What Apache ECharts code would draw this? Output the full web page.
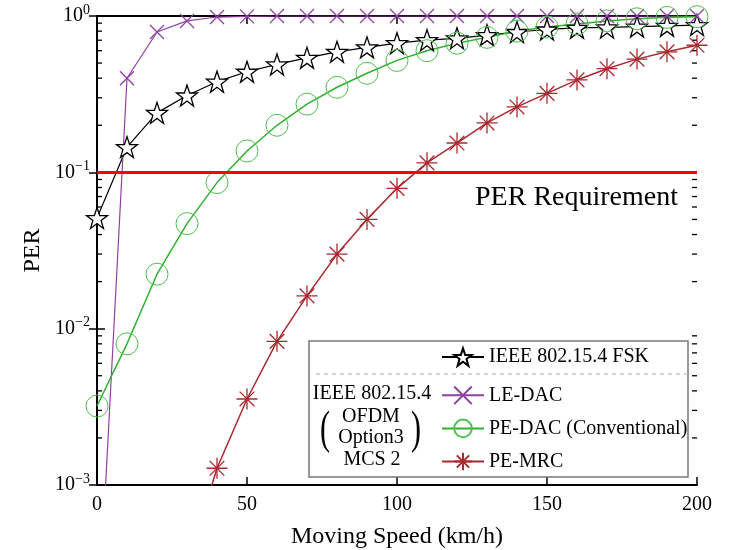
<!DOCTYPE html>
<html>
<head>
<meta charset="utf-8">
<script src="https://cdn.jsdelivr.net/npm/echarts@6/dist/echarts.min.js"></script>
<style>
  html, body { margin: 0; padding: 0; background: #fff; }
  #chart { width: 733px; height: 550px; }
</style>
</head>
<body>
<div id="chart"></div>
<script>
// moving speed (km/h)
var speed = [0, 10, 20, 30, 40, 50, 60, 70, 80, 90, 100, 110, 120, 130, 140, 150, 160, 170, 180, 190, 200];
// packet error rate per scheme
var fsk = [0.051, 0.145, 0.24, 0.31, 0.38, 0.44, 0.49, 0.54, 0.59, 0.63, 0.67, 0.70, 0.72, 0.755, 0.79, 0.82, 0.84, 0.845, 0.855, 0.865, 0.875];
var leDac = [0.00009, 0.40, 0.79, 0.93, 0.985, 0.995, 1, 1, 1, 1, 1, 1, 1, 1, 1, 1, 1, 1, 1, 1, 1];
var peDac = [0.0032, 0.0080, 0.0223, 0.047, 0.086, 0.137, 0.20, 0.273, 0.35, 0.43, 0.52, 0.60, 0.67, 0.73, 0.80, 0.85, 0.89, 0.93, 0.96, 0.98, 0.99];
var peMrc = [null, null, null, 0.0003, 0.00128, 0.00355, 0.0083, 0.0162, 0.030, 0.050, 0.079, 0.115, 0.154, 0.207, 0.262, 0.32, 0.39, 0.46, 0.53, 0.59, 0.65];
var perReq = 0.1;
var seriesNames = ['IEEE 802.15.4 FSK', 'LE-DAC', 'PE-DAC (Conventional)', 'PE-MRC'];
// log minor tick values (2..9 x 10^n)
var minorTicks = [0.002, 0.003, 0.004, 0.005, 0.006, 0.007, 0.008, 0.009,
                  0.02, 0.03, 0.04, 0.05, 0.06, 0.07, 0.08, 0.09,
                  0.2, 0.3, 0.4, 0.5, 0.6, 0.7, 0.8, 0.9];

var FONT = 'Liberation Serif';
var STAR = 'path://M50,0L61.8,34.5L97.6,34.5L68.8,55.9L79.4,90.5L50,69.1L20.6,90.5L31.2,55.9L2.4,34.5L38.2,34.5Z';
var CROSS = 'path://M0,0L10,10M10,0L0,10';
var ASTER = 'path://M5,0L5,10M0,5L10,5M1.5,1.5L8.5,8.5M8.5,1.5L1.5,8.5';

function pairs(ys) {
    return speed.map(function (x, i) { return [x, ys[i]]; });
}

function supLabel(v) {
    var e = Math.round(Math.log10(v));
    return '{b|10}{s|' + (e < 0 ? '\u2212' + (-e) : e) + '}';
}

function txt(x, y, s, size) {
    return {
        type: 'text', z: 6, x: x, y: y,
        style: { text: s, font: size + 'px "Liberation Serif"', fill: '#000', align: 'center', verticalAlign: 'middle' }
    };
}

var chart = echarts.init(document.getElementById('chart'));

var yCommon = {
    type: 'log', logBase: 10, min: 0.001, max: 1,
    splitLine: { show: false },
    axisLine: { show: true, lineStyle: { color: '#000', width: 2 } },
    axisTick: { show: true, inside: true, length: 8, lineStyle: { color: '#000', width: 1.5 } }
};
var xCommon = {
    type: 'value', min: 0, max: 200, interval: 50,
    splitLine: { show: false },
    axisLine: { show: true, lineStyle: { color: '#000', width: 2 } },
    axisTick: { show: true, inside: true, length: 8, lineStyle: { color: '#000', width: 1.5 } }
};
var legendText = { fontSize: 20, color: '#000', fontFamily: FONT };

var lparen = txt(325, 431, '(', 30);
lparen.scaleY = 1.55;
var rparen = txt(416, 431, ')', 30);
rparen.scaleY = 1.55;

var option = {
    animation: false,
    backgroundColor: '#fff',
    textStyle: { fontFamily: FONT },
    grid: { left: 97, right: 36, top: 16, bottom: 65, containLabel: false, outerBoundsMode: 'none' },
    xAxis: [
        Object.assign({}, xCommon, {
            position: 'bottom',
            name: 'Moving Speed (km/h)', nameLocation: 'middle', nameGap: 40,
            nameTextStyle: { fontSize: 24, color: '#000', fontFamily: FONT },
            axisLabel: { fontSize: 20, color: '#000', fontFamily: FONT, margin: 10 }
        }),
        Object.assign({}, xCommon, { position: 'top', axisLabel: { show: false } })
    ],
    yAxis: [
        Object.assign({}, yCommon, {
            position: 'left',
            name: 'PER', nameLocation: 'middle', nameGap: 50,
            nameTextStyle: { fontSize: 24, color: '#000', fontFamily: FONT },
            axisLabel: {
                margin: 7, formatter: supLabel,
                rich: {
                    b: { fontSize: 20, color: '#000', fontFamily: FONT },
                    s: { fontSize: 14, color: '#000', fontFamily: FONT, verticalAlign: 'top', padding: [0, 0, 12, 0] }
                }
            }
        }),
        Object.assign({}, yCommon, { position: 'right', axisLabel: { show: false } })
    ],
    legend: [{
        data: [seriesNames[0]],
        left: 441, top: 347, orient: 'vertical', padding: 0,
        itemWidth: 42, itemHeight: 22, z: 10,
        textStyle: legendText
    }, {
        data: seriesNames.slice(1),
        left: 441, top: 384, orient: 'vertical', itemGap: 10.5, padding: 0,
        itemWidth: 42, itemHeight: 22, z: 10,
        textStyle: legendText
    }],
    graphic: [
        { type: 'rect', z: 5, shape: { x: 309, y: 341, width: 379, height: 136 },
          style: { fill: '#fff', stroke: '#777', lineWidth: 1.5 } },
        { type: 'line', z: 6, shape: { x1: 316, y1: 374, x2: 688, y2: 374 },
          style: { stroke: '#aaa', lineWidth: 1, lineDash: [4, 4] } },
        txt(372, 394, 'IEEE 802.15.4', 20),
        txt(371, 417, 'OFDM', 20),
        txt(371, 438, 'Option3', 20),
        txt(372, 460, 'MCS 2', 20),
        lparen,
        rparen,
        { type: 'text', z: 6, right: 55, top: 184, style: { text: 'PER Requirement', font: '28px "Liberation Serif"', fill: '#000' } }
    ],
    series: [{
        name: seriesNames[0], type: 'line', data: pairs(fsk),
        symbol: STAR, symbolSize: 21,
        lineStyle: { color: '#000', width: 1.2 },
        itemStyle: { color: '#fff', borderColor: '#000', borderWidth: 1.3 }
    }, {
        name: seriesNames[1], type: 'line', data: pairs(leDac),
        symbol: CROSS, symbolSize: 14,
        lineStyle: { color: '#9040a0', width: 1.2 },
        itemStyle: { color: 'none', borderColor: '#9040a0', borderWidth: 1.3 }
    }, {
        name: seriesNames[2], type: 'line', data: pairs(peDac),
        symbol: 'circle', symbolSize: 22,
        lineStyle: { color: '#30b030', width: 1.5 },
        itemStyle: { color: 'none', borderColor: '#50c050', borderWidth: 1 }
    }, {
        name: seriesNames[3], type: 'line', data: pairs(peMrc),
        symbol: ASTER, symbolSize: 21,
        lineStyle: { color: '#a82a30', width: 1.5 },
        itemStyle: { color: 'none', borderColor: '#a82a30', borderWidth: 1.3 },
        markLine: {
            silent: true, symbol: 'none', label: { show: false },
            lineStyle: { color: '#ff0000', width: 3, type: 'solid' },
            data: [{ yAxis: perReq }]
        }
    }, {
        // log minor ticks on left and right frame
        type: 'custom', silent: true, z: 1,
        data: minorTicks.map(function (v) { return [0, v]; }),
        renderItem: function (params, api) {
            var v = api.value(1);
            var l = api.coord([0, v]);
            var r = api.coord([200, v]);
            var st = { stroke: '#000', lineWidth: 1.3 };
            return {
                type: 'group', children: [
                    { type: 'line', shape: { x1: l[0], y1: l[1], x2: l[0] + 5, y2: l[1] }, style: st },
                    { type: 'line', shape: { x1: r[0] - 5, y1: r[1], x2: r[0], y2: r[1] }, style: st }
                ]
            };
        }
    }]
};

chart.setOption(option);
</script>
</body>
</html>
